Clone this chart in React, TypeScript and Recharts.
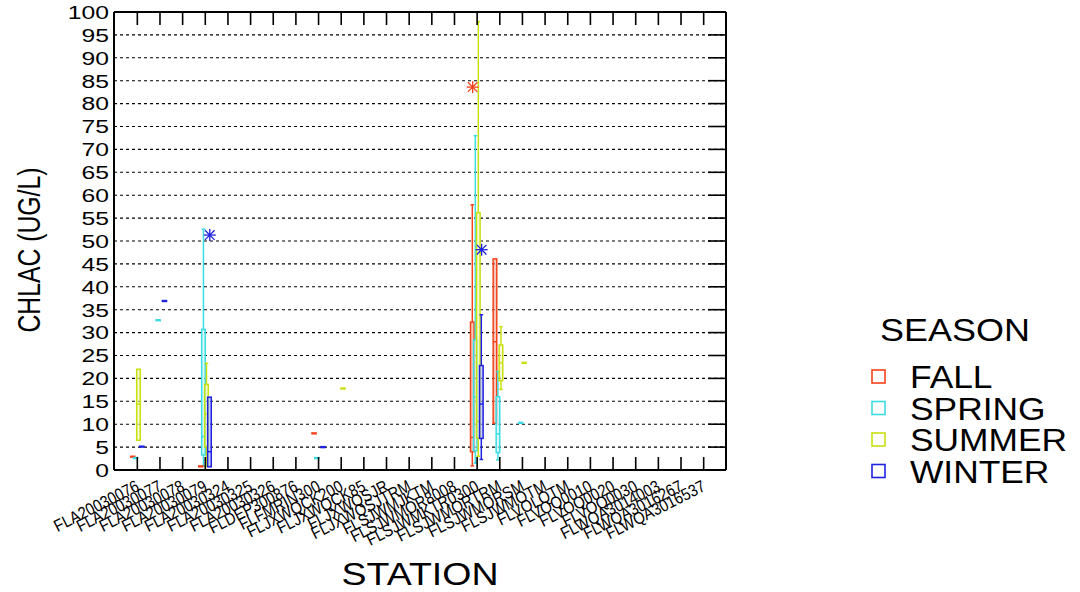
import { ComposedChart, Bar, Scatter, XAxis, YAxis, CartesianGrid } from "recharts";

const stations = [
  "FLA20030076", "FLA20030077", "FLA20030078", "FLA20030079", "FLA20030324",
  "FLA20030325", "FLA20030326", "FLDEP300876", "FLFMRIN300", "FLJXWQCK200",
  "FLJXWQCK85", "FLJXWQSJR", "FLJXWQSJTRM", "FLSJWMJKTM", "FLSJWMOR8008",
  "FLSJWMKTR0300", "FLSJWMORTRM", "FLSJWMORSM", "FLSJWMOTM", "FLVOLQTM",
  "FLVOQ0010", "FLVOQ0020", "FLVOQ0030", "FLWQA3014003", "FLWQA3016267",
  "FLWQA3016537",
];

const seasons = ["FALL", "SPRING", "SUMMER", "WINTER"];
const yTicks = [0, 5, 10, 15, 20, 25, 30, 35, 40, 45, 50, 55, 60, 65, 70, 75, 80, 85, 90, 95, 100];

type Box = { station: string; min: number; q1: number; med: number; q3: number; max: number };
type Pt = { station: string; value: number };

// box stats
const fallBoxes: Box[] = [
  { station: "FLSJWMKTR0300", min: 0.9, q1: 4.0, med: 7.1, q3: 32.3, max: 57.9 },
  { station: "FLSJWMORTRM", min: 10.2, q1: 10.2, med: 28.0, q3: 46.1, max: 46.1 },
];
const springBoxes: Box[] = [
  { station: "FLA20030079", min: 0.8, q1: 3.3, med: 7.3, q3: 30.7, max: 52.6 },
  { station: "FLSJWMKTR0300", min: 1.5, q1: 4.2, med: 15.9, q3: 28.4, max: 73.0 },
  { station: "FLSJWMORTRM", min: 2.2, q1: 3.8, med: 7.9, q3: 16.0, max: 21.5 },
];
const summerBoxes: Box[] = [
  { station: "FLA20030076", min: 6.5, q1: 6.5, med: 14.4, q3: 22.0, max: 22.0 },
  { station: "FLA20030079", min: 0.8, q1: 5.1, med: 12.2, q3: 18.7, max: 23.3 },
  { station: "FLSJWMKTR0300", min: 3.0, q1: 7.0, med: 10.6, q3: 56.2, max: 97.9 },
  { station: "FLSJWMORTRM", min: 17.6, q1: 19.5, med: 23.4, q3: 27.3, max: 31.3 },
];
const winterBoxes: Box[] = [
  { station: "FLA20030079", min: 0.7, q1: 0.7, med: 4.0, q3: 15.9, max: 15.9 },
  { station: "FLSJWMKTR0300", min: 2.3, q1: 6.9, med: 14.4, q3: 22.8, max: 33.9 },
];

// stations with a single sample
const fallSingles: Pt[] = [
  { station: "FLA20030076", value: 2.9 },
  { station: "FLA20030079", value: 0.8 },
  { station: "FLFMRIN300", value: 8.0 },
];
const springSingles: Pt[] = [
  { station: "FLA20030076", value: 2.6 },
  { station: "FLA20030077", value: 32.7 },
  { station: "FLFMRIN300", value: 2.6 },
  { station: "FLSJWMORSM", value: 10.3 },
];
const summerSingles: Pt[] = [
  { station: "FLJXWQCK200", value: 17.8 },
  { station: "FLSJWMORSM", value: 23.4 },
];
const winterSingles: Pt[] = [
  { station: "FLA20030076", value: 5.1 },
  { station: "FLA20030077", value: 36.9 },
  { station: "FLFMRIN300", value: 5.0 },
];

// outliers (asterisks)
const fallOutliers: Pt[] = [{ station: "FLSJWMKTR0300", value: 83.6 }];
const springOutliers: Pt[] = [];
const summerOutliers: Pt[] = [];
const winterOutliers: Pt[] = [
  { station: "FLA20030079", value: 51.3 },
  { station: "FLSJWMKTR0300", value: 48.1 },
];

const keys = ["fall", "spring", "summer", "winter"];
const boxes: Record<string, Box[]> = { fall: fallBoxes, spring: springBoxes, summer: summerBoxes, winter: winterBoxes };
const singles: Record<string, Pt[]> = { fall: fallSingles, spring: springSingles, summer: summerSingles, winter: winterSingles };
const outliers: Record<string, Pt[]> = { fall: fallOutliers, spring: springOutliers, summer: summerOutliers, winter: winterOutliers };

const rows = stations.map((station) => {
  const row: any = { station };
  keys.forEach((k) => {
    const b = boxes[k].find((d) => d.station === station);
    row[k + "Box"] = b ?? null;
    row[k + "Range"] = b ? [b.min, b.max] : null;
    row[k + "Single"] = singles[k].find((d) => d.station === station)?.value ?? null;
    row[k + "Out"] = outliers[k].find((d) => d.station === station)?.value ?? null;
  });
  return row;
});

const colors: Record<string, string> = {
  fall: "#F4421C",
  spring: "#3CDCE4",
  summer: "#C8E010",
  winter: "#1E22E0",
};
const fills: Record<string, string> = {
  fall: "#F7A48C",
  spring: "#BDF2F4",
  summer: "#EEF6B0",
  winter: "#A9B0F2",
};
const offsets: Record<string, number> = { fall: -4.5, spring: -1.8, summer: 1.8, winter: 4.5 };

const font = "'Liberation Sans', Arial, sans-serif";

// layout of the chart frame
const W = 1080;
const H = 592;
const margin = { top: 10, right: 352, bottom: 32, left: 54 };
const topAxisH = 2;
const rightAxisW = 2;
const plotTop = margin.top + topAxisH;
const plotRight = W - margin.right - rightAxisW;

const boxShape = (k: string) => (props: any) => {
  const b: Box | null = props.payload?.[k + "Box"] ?? null;
  if (!b || !isFinite(props.y) || !isFinite(props.height)) return <g />;
  const top = Math.min(props.y, props.y + props.height);
  const bottom = Math.max(props.y, props.y + props.height);
  const span = b.max - b.min;
  const py = (v: number) => (span === 0 ? top : bottom - ((v - b.min) / span) * (bottom - top));
  const cx = props.x + props.width / 2;
  const w = 3.6;
  const c = colors[k];
  return (
    <g stroke={c} strokeWidth={1.5}>
      {b.max > b.q3 && (
        <>
          <line x1={cx} x2={cx} y1={py(b.max)} y2={py(b.q3)} />
          <line x1={cx - w / 2} x2={cx + w / 2} y1={py(b.max)} y2={py(b.max)} />
        </>
      )}
      {b.min < b.q1 && (
        <>
          <line x1={cx} x2={cx} y1={py(b.q1)} y2={py(b.min)} />
          <line x1={cx - w / 2} x2={cx + w / 2} y1={py(b.min)} y2={py(b.min)} />
        </>
      )}
      <rect x={cx - w / 2} y={py(b.q3)} width={w} height={py(b.q1) - py(b.q3)} fill={fills[k]} fillOpacity={0.6} />
      <line x1={cx - w / 2} x2={cx + w / 2} y1={py(b.med)} y2={py(b.med)} />
    </g>
  );
};

const dashShape = (k: string) => (props: any) => {
  if (props.payload?.[k + "Single"] == null || !isFinite(props.cy)) return <g />;
  const x = props.cx + offsets[k];
  return <rect x={x - 2.8} y={props.cy - 1.2} width={5.6} height={2.4} fill={colors[k]} />;
};

const starShape = (k: string) => (props: any) => {
  if (props.payload?.[k + "Out"] == null || !isFinite(props.cy)) return <g />;
  const x = props.cx + offsets[k];
  const y = props.cy;
  const r = 6;
  return (
    <g stroke={colors[k]} strokeWidth={1.3}>
      <line x1={x} x2={x} y1={y - r} y2={y + r} />
      <line x1={x - r} x2={x + r} y1={y} y2={y} />
      <line x1={x - r * 0.8} x2={x + r * 0.8} y1={y - r * 0.8} y2={y + r * 0.8} />
      <line x1={x - r * 0.8} x2={x + r * 0.8} y1={y + r * 0.8} y2={y - r * 0.8} />
    </g>
  );
};

// bottom axis: inward tick marks (bottom and top frame) plus rotated station label
const XTick = (p: any) => {
  const x = p.x + 3;
  const y = p.y + 20;
  return (
    <g>
      <line x1={p.x} x2={p.x} y1={p.y} y2={p.y - 13} stroke="#000" strokeWidth={1.6} />
      <line x1={p.x} x2={p.x} y1={plotTop} y2={plotTop + 13} stroke="#000" strokeWidth={1.6} />
      <g transform={`translate(${x} ${y}) rotate(-27) scale(0.87 1)`}>
        <text x={0} y={0} textAnchor="end" fontSize={17} fontFamily={font} fill="#000">
          {p.payload.value}
        </text>
      </g>
    </g>
  );
};

// left axis: value label plus inward tick on the right frame
const YTick = (p: any) => (
  <g>
    <line x1={plotRight - 18} x2={plotRight} y1={p.y} y2={p.y} stroke="#000" strokeWidth={1.6} />
    <g transform={`translate(${p.x} ${p.y}) scale(1.3 1)`}>
      <text x={0} y={0} dy="0.36em" textAnchor="end" fontSize={19} fontFamily={font} fill="#000">
        {p.payload.value}
      </text>
    </g>
  </g>
);

const YTitle = (p: any) => {
  const vb = p.viewBox;
  const cx = vb.x - 26;
  const cy = vb.y + vb.height / 2 + 9;
  return (
    <text
      x={cx}
      y={cy}
      dy="0.36em"
      transform={`rotate(-90 ${cx} ${cy})`}
      textAnchor="middle"
      fontSize={32}
      fontFamily={font}
      textLength={165}
      lengthAdjust="spacingAndGlyphs"
      fill="#000"
    >
      CHLAC (UG/L)
    </text>
  );
};

const XTitle = (p: any) => {
  const vb = p.viewBox;
  return (
    <text
      x={vb.x + vb.width / 2}
      y={vb.y + 115}
      textAnchor="middle"
      fontSize={32}
      fontFamily={font}
      textLength={157}
      lengthAdjust="spacingAndGlyphs"
      fill="#000"
    >
      STATION
    </text>
  );
};

const frame = { stroke: "#000", strokeWidth: 2 };
const pad = { left: 12, right: 11 };

export default function App() {
  return (
    <div style={{ position: "absolute", left: 0, top: 0, width: W, height: H, background: "#fff" }}>
      <ComposedChart width={W} height={H} data={rows} margin={margin} barSize={3} barGap={0}>
        <CartesianGrid
          xAxisId="main"
          yAxisId="left"
          vertical={false}
          stroke="#000"
          strokeDasharray="3 3"
          strokeWidth={1.1}
        />
        <XAxis
          xAxisId="main"
          dataKey="station"
          type="category"
          interval={0}
          height={90}
          padding={pad}
          axisLine={frame}
          tickSize={0}
          tickMargin={0}
          tickLine={false}
          tick={XTick}
          label={{ content: XTitle }}
        />
        <XAxis
          xAxisId="top"
          dataKey="station"
          type="category"
          orientation="top"
          height={topAxisH}
          interval={0}
          padding={pad}
          axisLine={frame}
          tickLine={false}
          tick={false}
        />
        <YAxis
          yAxisId="left"
          type="number"
          domain={[0, 100]}
          ticks={yTicks}
          interval={0}
          allowDataOverflow
          width={60}
          tickSize={0}
          tickMargin={5}
          axisLine={frame}
          tickLine={false}
          tick={YTick}
          label={{ content: YTitle }}
        />
        <YAxis
          yAxisId="right"
          orientation="right"
          width={rightAxisW}
          type="number"
          domain={[0, 100]}
          ticks={yTicks}
          interval={0}
          allowDataOverflow
          axisLine={frame}
          tickLine={false}
          tick={false}
        />
        {keys.map((k) => (
          <Bar
            key={k + "box"}
            xAxisId="main"
            yAxisId="left"
            dataKey={k + "Range"}
            shape={boxShape(k)}
            isAnimationActive={false}
          />
        ))}
        {keys.map((k) => (
          <Scatter
            key={k + "single"}
            xAxisId="main"
            yAxisId="left"
            dataKey={k + "Single"}
            shape={dashShape(k)}
            isAnimationActive={false}
          />
        ))}
        {keys.map((k) => (
          <Scatter
            key={k + "out"}
            xAxisId="main"
            yAxisId="left"
            dataKey={k + "Out"}
            shape={starShape(k)}
            isAnimationActive={false}
          />
        ))}
      </ComposedChart>
      <svg width={W} height={H} style={{ position: "absolute", left: 0, top: 0, pointerEvents: "none" }}>
        <g transform="translate(880 341) scale(1.16 1)">
          <text x={0} y={0} fontSize={31} fontFamily={font} fill="#000">
            SEASON
          </text>
        </g>
        {keys.map((k, i) => (
          <g key={k}>
            <rect x={872} y={370 + i * 31.5} width={13} height={13} fill="none" stroke={colors[k]} strokeWidth={1.6} />
            <g transform={`translate(910 ${388 + i * 31.5}) scale(1.14 1)`}>
              <text x={0} y={0} fontSize={31} fontFamily={font} fill="#000">
                {seasons[i]}
              </text>
            </g>
          </g>
        ))}
      </svg>
    </div>
  );
}
